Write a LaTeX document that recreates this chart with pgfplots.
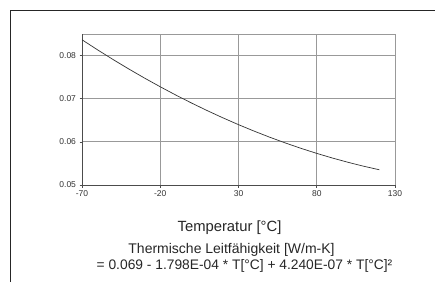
\documentclass[border=0pt]{standalone}
\usepackage{pgfplots}
\pgfplotsset{compat=1.18}
\usepackage{fontspec}
\setmainfont{Liberation Sans}
\begin{document}
\begin{tikzpicture}
\useasboundingbox (0pt,0pt) rectangle (435pt,282pt);
\draw[line width=1.2pt,black!85] (10.5pt,0pt) -- (10.5pt,271.5pt) -- (435pt,271.5pt);
\begin{axis}[
  at={(82pt,97pt)}, anchor=south west,
  width=313pt, height=151pt, scale only axis,
  xmin=-70, xmax=130, ymin=0.05, ymax=0.085,
  xtick={-70,-20,30,80,130},
  ytick={0.05,0.06,0.07,0.08},
  yticklabel style={/pgf/number format/.cd,fixed,precision=2,zerofill},
  /pgf/number format/assume math mode=true,
  ticklabel style={font=\fontsize{8.5}{9}\selectfont, text=black!80},
  grid=major,
  major grid style={gray!80, line width=0.8pt},
  axis line style={draw=none},
  tick style={black!70, line width=0.6pt},
  tick align=outside,
  major tick length=2.5pt,
  xtick pos=bottom, ytick pos=left,
  scaled y ticks=false,
  clip=false,
]
\draw[gray!80, line width=0.9pt] (axis cs:-70,0.085) -- (axis cs:130,0.085) -- (axis cs:130,0.05);
\draw[black!70, line width=0.9pt] (axis cs:-70,0.085) -- (axis cs:-70,0.05) -- (axis cs:130,0.05);
\addplot[black!80, line width=0.7pt] coordinates {
(-70,0.083664) (-60,0.0813144) (-50,0.07905) (-40,0.0768704) (-30,0.0747756)
(-20,0.0727656) (-10,0.0708404) (0,0.069) (10,0.0672444) (20,0.0655736)
(30,0.0639876) (40,0.0624864) (50,0.06107) (60,0.0597384) (70,0.0584916)
(80,0.0573296) (90,0.0562524) (100,0.05526) (110,0.0543524) (120,0.0535296)
};
\end{axis}
\node[font=\fontsize{14.8}{16}\selectfont, text=black!85] at (229.5pt,54pt) {Temperatur [°C]};
\node[font=\fontsize{14}{16}\selectfont, text=black!85] at (231.5pt,32pt) {Thermische Leitfähigkeit [W/m-K]};
\node[font=\fontsize{13.8}{16}\selectfont, text=black!85] at (244.5pt,16pt) {= 0.069 - 1.798E-04 * T[°C] + 4.240E-07 * T[°C]²};
\end{tikzpicture}
\end{document}
